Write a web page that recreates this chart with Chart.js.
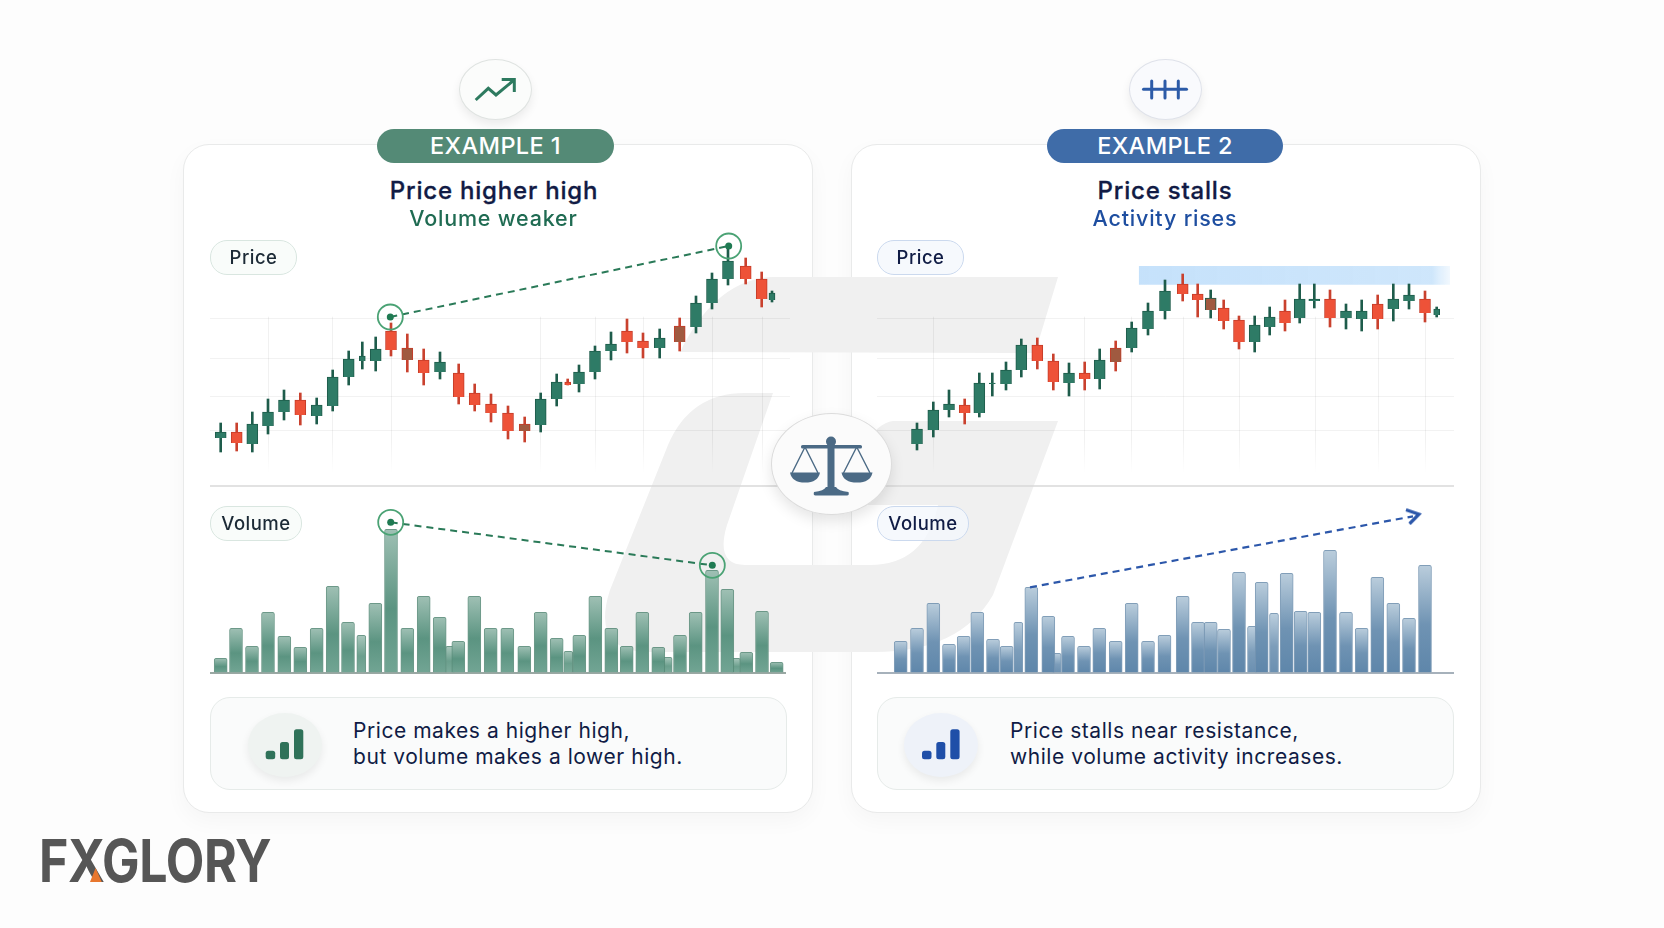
<!DOCTYPE html>
<html><head><meta charset="utf-8">
<script src="https://cdn.jsdelivr.net/npm/chart.js@4/dist/chart.umd.min.js"></script>
<style>
html,body{margin:0;padding:0;width:1664px;height:928px;overflow:hidden;background:#fdfdfd;font-family:Inter,"Noto Sans",sans-serif}
.abs,canvas{position:absolute}
.card{position:absolute;top:144px;height:669px;width:630px;box-sizing:border-box;background:#fff;border:1px solid #e9eaea;border-radius:26px;box-shadow:0 8px 22px rgba(0,0,0,.035)}
.pill{position:absolute;box-sizing:border-box;height:35px;border-radius:17px;border:1.5px solid #d9e6e0;background:rgba(248,251,249,.8);color:#1c2a36;font-size:18.5px;font-weight:500;letter-spacing:.5px;padding-bottom:1px;display:flex;align-items:center;justify-content:center}
.pill.b{border-color:#cbd9ee;background:rgba(244,247,253,.8);color:#101c45}
.badge{position:absolute;top:129px;height:34px;padding-bottom:2px;box-sizing:border-box;border-radius:17px;color:#fff;font-size:23.5px;font-weight:500;letter-spacing:.4px;display:flex;align-items:center;justify-content:center}
.ctr{position:absolute;white-space:nowrap;transform:translate(-50%,-50%)}
.title{font-size:24px;font-weight:500;letter-spacing:.8px;color:#111b45;-webkit-text-stroke:.3px #111b45}
.sub{font-size:21.5px;font-weight:500;letter-spacing:.8px}
.box{position:absolute;top:697px;height:93px;width:577px;box-sizing:border-box;border:1.5px solid #e6ebe9;border-radius:20px;background:rgba(250,251,251,.9)}
.boxtext{position:absolute;white-space:nowrap;font-size:21px;font-weight:400;letter-spacing:.55px;line-height:26px;color:#101c45}
.ell{position:absolute;border-radius:50%;box-sizing:border-box}
#logo{position:absolute;left:39px;top:826px;font-size:59px;font-weight:650;color:#565656;letter-spacing:-.5px;line-height:70px;white-space:nowrap;transform:scaleX(.85);transform-origin:0 50%}
</style></head>
<body>
<div class="card" style="left:183px"></div>
<div class="card" style="left:851px"></div>

<svg class="abs" style="left:0;top:0" width="1664" height="928">
  <path fill="#f0f0f0" d="M680 352 Q716 279 773 277 L1058 277 L1035 353 Z"/>
  <path fill="#f0f0f0" d="M773 393 L745 393 Q690 393 668 445 L610 590 Q590 652 650 652 L875 652 Q960 652 993 595 L1058 421 L893 421 Q862 425 848 505 L938 505 Q925 565 870 565 L745 565 Q715 565 727 525 Z"/>
  <line x1="210" y1="486" x2="790" y2="486" stroke="#d9d9d9" stroke-width="1.5"/>
  <line x1="877" y1="486" x2="1454" y2="486" stroke="#d9d9d9" stroke-width="1.5"/>
</svg>

<canvas id="price1" width="580" height="261" style="left:210px;top:225px"></canvas>
<canvas id="price2" width="577" height="261" style="left:877px;top:225px"></canvas>
<canvas id="vol1" width="576" height="172" style="left:210px;top:504px"></canvas>
<canvas id="vol2" width="577" height="172" style="left:877px;top:504px"></canvas>

<div class="ell" style="left:459px;top:59px;width:73px;height:61px;background:#fbfcfb;border:1.5px solid #dfe3e1;box-shadow:0 5px 10px rgba(0,0,0,.07)"></div>
<div class="ell" style="left:1129px;top:59px;width:73px;height:61px;background:#f9fafd;border:1.5px solid #dfe2ea;box-shadow:0 5px 10px rgba(0,0,0,.07)"></div>
<div class="badge" style="left:377px;width:237px;background:#548a76">EXAMPLE 1</div>
<div class="badge" style="left:1047px;width:236px;background:#3f6ca8">EXAMPLE 2</div>
<div class="ctr title" style="left:494px;top:190px">Price higher high</div>
<div class="ctr sub" style="left:493.5px;top:218px;color:#1f6b52">Volume weaker</div>
<div class="ctr title" style="left:1165px;top:190px">Price stalls</div>
<div class="ctr sub" style="left:1165px;top:218px;color:#1e4ea0">Activity rises</div>

<div class="pill" style="left:210px;top:240px;width:87px">Price</div>
<div class="pill b" style="left:877px;top:240px;width:87px">Price</div>
<div class="pill" style="left:210px;top:506px;width:92px">Volume</div>
<div class="pill b" style="left:877px;top:506px;width:92px">Volume</div>

<div class="box" style="left:210px"></div>
<div class="box" style="left:877px"></div>
<div class="ell" style="left:248px;top:713px;width:74px;height:64px;background:#eff3f1;box-shadow:0 4px 8px rgba(0,0,0,.07)"></div>
<div class="ell" style="left:904px;top:713px;width:74px;height:64px;background:#eef2f9;box-shadow:0 4px 8px rgba(0,0,0,.07)"></div>
<div class="boxtext" style="left:353px;top:717.5px">Price makes a higher high,<br>but volume makes a lower high.</div>
<div class="boxtext" style="left:1010px;top:717.5px">Price stalls near resistance,<br>while volume activity increases.</div>

<div class="ell" style="left:771px;top:413px;width:121px;height:102px;background:#fbfbfb;border:1.5px solid #dcdcdc;box-shadow:0 6px 14px rgba(0,0,0,.10)"></div>

<svg class="abs" style="left:0;top:0" width="1664" height="928">
  <polyline points="475.7,100 488.3,88.3 496,95 514,80" fill="none" stroke="#2d7a5f" stroke-width="3"/>
  <polyline points="501.7,79.5 514.3,79.5 514.3,92" fill="none" stroke="#2d7a5f" stroke-width="3"/>
  <g stroke="#2c5ba8" stroke-width="3" stroke-linecap="round">
    <line x1="1143.5" y1="89.3" x2="1186.5" y2="89.3"/>
    <line x1="1151.7" y1="81" x2="1151.7" y2="98"/><line x1="1165" y1="81" x2="1165" y2="98"/><line x1="1178.3" y1="81" x2="1178.3" y2="98"/>
  </g>
  <g fill="#2f7259">
    <rect x="265.7" y="750.7" width="9.5" height="8.6" rx="2.5"/><rect x="280" y="742" width="9" height="17.3" rx="2.5"/><rect x="294" y="729.3" width="9.3" height="30" rx="2.5"/>
  </g>
  <g fill="#1f4fa8">
    <rect x="922" y="750.7" width="9.5" height="8.6" rx="2.5"/><rect x="936.3" y="742" width="9" height="17.3" rx="2.5"/><rect x="950.3" y="729.3" width="9.3" height="30" rx="2.5"/>
  </g>
  <g fill="#4b6a85" stroke="none">
    <circle cx="831" cy="441.5" r="5"/>
    <rect x="801" y="445" width="61" height="3.6" rx="1.6"/>
    <rect x="827.5" y="444" width="7" height="46"/>
    <path d="M826 487 L836 487 Q838 491 848.5 492 Q849.5 495.6 847 495.6 L815.5 495.6 Q813 495.6 814 492 Q824 491 826 487Z"/>
    <path d="M790 472.5 L820 472.5 Q818 482.6 805 482.6 Q792 482.6 790 472.5Z"/>
    <path d="M841.5 472.5 L872.5 472.5 Q870.5 482.6 857 482.6 Q843.5 482.6 841.5 472.5Z"/>
  </g>
  <g fill="none" stroke="#4b6a85" stroke-width="1.4">
    <polyline points="792,473 805,447 818,473"/>
    <polyline points="843.5,473 856.7,447 870,473"/>
  </g>
</svg>

<div id="logo">FXGLORY</div>
<svg class="abs" style="left:0;top:0" width="300" height="928"><path d="M90 882 L101.8 882 L95.6 868 Z" fill="#e8772e"/></svg>

<script>
// Example 1 price candles (session time, OHLC)
const time1  = [10.7,26.7,42.3,58,74,90.3,106.7,122.7,138.7,152.3,165.7,181,197.3,213.7,230,248.7,264.7,281,298,314.7,330.7,346.7,357.7,369,385,401,417,433,449.7,469.7,486,502,518,535.7,551.7,562];
const open1  = [42,48,36,54,68,80,64,74,103,119,119,149,132,120,108,107,87,76,67,56,55,81,98,96,108,129,149,139,132,154,153,177,201,214,201,180];
const high1  = [57,57,68,81,90,87,82,110,129,138,143,157,146,131,128,116,96,86,74,63,87,106,101,115,134,148,161,147,151,162,184,207,232,222,208,189];
const low1   = [28,29,28,46,60,55,56,69,95,111,109,124,108,95,101,76,69,58,41,38,48,74,95,88,101,120,127,122,122,129,147,171,195,196,173,178];
const close1 = [48,37,56,68,80,65,75,103,121,124,131,130,120,107,118,83,75,67,49,49,81,98,95,108,129,136,138,132,142,138,177,201,219,201,181,187];
const blended1 = [12,19,29];
const slim1 = [9,22,35];
const gridTime1 = [58,122,181,330,385,433,502,552];

// Example 2 price candles
const time2  = [40,56.3,72,87.7,102.3,115.3,129,144.3,160.3,176.3,192,207.7,222.7,238.7,254.7,271,288,305.7,320.7,333.7,346.7,362,377.7,392.7,408,422.7,437.3,453,469,484.7,500.7,516.3,532,548,559.7];
const open2  = [36,50,70,75,67,96,96,110,135,119,97,107,101,132,132,151,169,196,186,170,172,160,138,153,169,162,179,181,162,161,176,171,179,181,165];
const high2  = [57,78,90,81,107,107,118,141,142,126,117,118,131,139,158,177,200,206,196,190,180,164,164,173,180,196,196,190,176,180,185,196,196,189,173];
const low2   = [30,43,63,56,63,84,90,103,111,90,84,90,91,109,128,145,161,179,163,162,151,131,128,145,149,157,172,153,151,149,151,159,171,158,163];
const close2 = [51,70,76,67,97,97,110,135,119,98,107,101,120,118,152,169,189,186,180,182,159,138,155,163,157,181,181,162,169,169,161,181,185,167,171];
const blended2 = [13,19];
const slim2 = [5,34];
const gridTime2 = [56,207,254,306,362,438,501,548];

const gridPrice = [162,122,84,50];

// Example 1 volume
const volTime1   = [10.7,26,42,58,74.3,90.3,106.7,122.7,138,165.3,181,197.3,213.7,229.7,248.3,264.3,280.7,297.3,314.3,330.7,346.7,369.3,385.3,401.3,416.7,432.3,448.3,470,485.7,502,517.3,536.3,552,566.7];
const volume1    = [15,45,27,61,37,26,45,87,51,70,144,45,77,56,32,77,45,45,27,61,35,38,77,45,27,61,26,38,61,103,84,21,62,11];
const minorTime1 = [151.3,240,358.3,457.7,526];
const minorVol1  = [38,27,22,16,15];

// Example 2 volume
const volTime2   = [23.7,40,56.3,72,86.7,100.3,116,129.7,154.3,171.3,191,207,222.3,238.7,254.7,271,287.5,305.7,321,333.7,347,362,384.7,409.7,423.7,437.3,453,469,484.7,500.3,516.3,532,548];
const volume2    = [32,45,70,29,37,61,34,27,86,57,37,27,45,32,70,32,38,77,51,51,44,101,91,100,62,61,123,61,45,96,70,55,108];
const minorTime2 = [141.3,179.7,375,397];
const minorVol2  = [51,20,47,60];

// Callouts
const peakPriceTime1 = [180.3,518.7]; const peakPrice1 = [163,234];
const peakVolTime1   = [180.7,502.3]; const peakVol1   = [151,108];
const trendVolTime2  = [153,536];     const trendVol2  = [86,157];
const resistTime2    = [261.7,573];   const resistTop = 214, resistBottom = 195.3;

const pts = (xs, ys) => xs.map((x, i) => ({x, y: ys[i]}));
const ticksOf = arr => scale => { scale.ticks = arr.map(value => ({value})); };

const GREEN = '#2e7b66', GREEN_D = '#1e5c4b', RED = '#ee5238', RED_D = '#c53c29', MIX = '#a05a40';
const RING = '#4aa274', DASH_G = '#2a7a58', BLUE = '#2c57aa';

function baseOptions(w, yMin, yMax, gridX, gridY, xColor, yColor, yWidth) {
  return {
    responsive: false, maintainAspectRatio: false, animation: false, events: [],
    devicePixelRatio: 1, layout: {padding: 0, autoPadding: false},
    plugins: {legend: {display: false}, tooltip: {enabled: false}},
    scales: {
      x: {type: 'linear', min: 0, max: w, offset: false, border: {display: false},
          grid: {offset: false, drawTicks: false, color: xColor, lineWidth: 1},
          ticks: {display: false, autoSkip: false}, afterBuildTicks: ticksOf(gridX)},
      y: {type: 'linear', min: yMin, max: yMax, border: {display: false},
          grid: {drawTicks: false, color: yColor, lineWidth: yWidth},
          ticks: {display: false, autoSkip: false}, afterBuildTicks: ticksOf(gridY)}
    }
  };
}

function candleDatasets(t, o, h, l, c, blended, slim) {
  const up = i => c[i] >= o[i];
  const idx = t.map((_, i) => i);
  const bodies = (list, w) => ({
    type: 'bar', order: 2, grouped: false, barThickness: w, borderWidth: 1,
    data: list.map(i => ({x: t[i], y: [o[i], c[i]]})),
    backgroundColor: list.map(i => blended.includes(i) ? MIX : up(i) ? GREEN : RED),
    borderColor: list.map(i => up(i) ? GREEN_D : RED_D)
  });
  return [
    bodies(idx.filter(i => !slim.includes(i)), 11),
    bodies(slim, 6),
    {type: 'bar', order: 3, grouped: false, barThickness: 2, borderWidth: 0,
     data: t.map((x, i) => ({x, y: [l[i], h[i]]})),
     backgroundColor: t.map((_, i) => up(i) ? GREEN_D : '#c9412e')}
  ];
}

function calloutDatasets(xs, ys) {
  return [
    {type: 'line', order: 1, data: pts(xs, ys), borderColor: DASH_G, borderWidth: 2, borderDash: [7, 5],
     pointRadius: 3.5, pointBackgroundColor: '#1f7a52', pointBorderWidth: 0, clip: false},
    {type: 'line', order: 0, data: pts(xs, ys), showLine: false, pointRadius: 12.5,
     pointBackgroundColor: 'rgba(0,0,0,0)', pointBorderColor: RING, pointBorderWidth: 1.8, clip: false}
  ];
}

function fadeColumns(c) {
  const g = c.chart.ctx.createLinearGradient(0, 0, 0, 261);
  g.addColorStop(0, 'rgba(0,0,0,0)'); g.addColorStop(.35, 'rgba(0,0,0,0)');
  g.addColorStop(.352, 'rgba(0,0,0,.055)'); g.addColorStop(.82, 'rgba(0,0,0,.055)');
  g.addColorStop(.95, 'rgba(0,0,0,0)');
  return g;
}

function bandFill(c) {
  const g = c.chart.ctx.createLinearGradient(261, 0, 577, 0);
  g.addColorStop(0, 'rgba(183,218,250,.8)'); g.addColorStop(.93, 'rgba(190,222,250,.75)');
  g.addColorStop(1, 'rgba(205,230,252,.15)');
  return g;
}

function barFill(stops) {
  return c => {
    const s = c.chart.scales && c.chart.scales.y;
    const v = c.parsed ? c.parsed.y : null;
    if (!s || !Number.isFinite(v)) return stops[1];
    const top = s.getPixelForValue(v), bottom = s.getPixelForValue(0);
    if (!Number.isFinite(top) || !Number.isFinite(bottom)) return stops[1];
    const g = c.chart.ctx.createLinearGradient(0, top, 0, bottom);
    g.addColorStop(0, stops[0]); g.addColorStop(.55, stops[1]); g.addColorStop(1, stops[2]);
    return g;
  };
}

function volumeDatasets(xs, ys, mxs, mys, fill, faint, edge) {
  return [
    {type: 'bar', order: 3, grouped: false, barThickness: 13, borderWidth: 1, borderRadius: 2,
     data: pts(xs, ys), backgroundColor: barFill(fill), borderColor: edge},
    {type: 'bar', order: 4, grouped: false, barThickness: 9, borderWidth: 1, borderRadius: 2,
     data: pts(mxs, mys), backgroundColor: barFill(faint), borderColor: edge}
  ];
}

const chevron = document.createElement('canvas');
chevron.width = 18; chevron.height = 18;
(() => {
  const g = chevron.getContext('2d');
  g.strokeStyle = BLUE; g.lineWidth = 3.2; g.lineJoin = 'miter';
  g.beginPath(); g.moveTo(2, 2.5); g.lineTo(15, 7); g.lineTo(5.5, 16.5); g.stroke();
})();

new Chart(document.getElementById('price1'), {
  type: 'bar',
  data: {datasets: [...calloutDatasets(peakPriceTime1, peakPrice1), ...candleDatasets(time1, open1, high1, low1, close1, blended1, slim1)]},
  options: baseOptions(580, -6, 255, gridTime1, gridPrice, fadeColumns, 'rgba(0,0,0,.05)', 1)
});

new Chart(document.getElementById('price2'), {
  type: 'bar',
  data: {datasets: [
    ...candleDatasets(time2, open2, high2, low2, close2, blended2, slim2),
    {type: 'line', order: 5, data: pts(resistTime2, [resistTop, resistTop]), borderWidth: 0, pointRadius: 0,
     fill: {value: resistBottom}, backgroundColor: bandFill}
  ]},
  options: baseOptions(577, -6, 255, gridTime2, gridPrice, fadeColumns, 'rgba(0,0,0,.05)', 1)
});

new Chart(document.getElementById('vol1'), {
  type: 'bar',
  data: {datasets: [
    ...calloutDatasets(peakVolTime1, peakVol1),
    ...volumeDatasets(volTime1, volume1, minorTime1, minorVol1,
      ['#9fc0b4', '#5b9481', '#72a594'], ['#a9c7bc', '#6b9f8d', '#7cac9c'], 'rgba(84,135,116,.85)')
  ]},
  options: baseOptions(576, -2.7, 169.3, [], [0], 'rgba(0,0,0,0)', '#9aa8a3', 2)
});

new Chart(document.getElementById('vol2'), {
  type: 'bar',
  data: {datasets: [
    {type: 'line', order: 1, data: pts(trendVolTime2, trendVol2), borderColor: BLUE, borderWidth: 2.2, borderDash: [7, 5],
     pointRadius: 0, clip: false},
    {type: 'line', order: 0, data: pts([trendVolTime2[1]], [trendVol2[1]]), showLine: false, pointStyle: chevron, clip: false},
    ...volumeDatasets(volTime2, volume2, minorTime2, minorVol2,
      ['#bacddc', '#6f93b3', '#5e86aa'], ['#bccfde', '#7c9dba', '#6a8fb0'], 'rgba(115,147,176,.9)')
  ]},
  options: baseOptions(577, -2.7, 169.3, [], [0], 'rgba(0,0,0,0)', '#a6b1bb', 2)
});
</script>
</body></html>
